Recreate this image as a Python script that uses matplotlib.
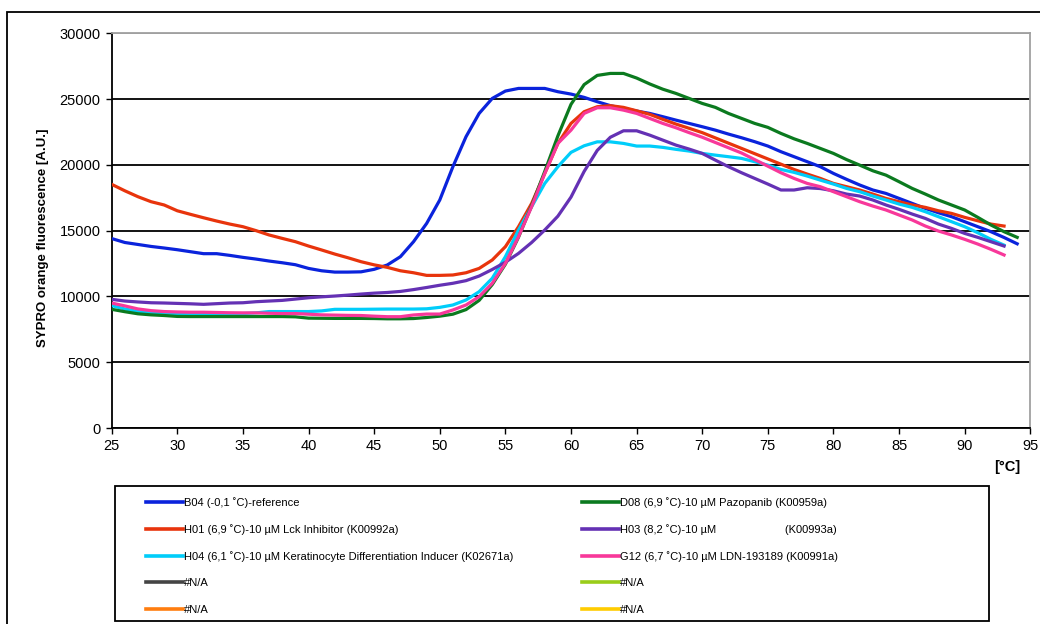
import matplotlib
matplotlib.use("Agg")
import matplotlib.pyplot as plt
import matplotlib.patches as mpatch
from matplotlib.lines import Line2D

plt.rcParams['font.family'] = ['Liberation Sans', 'DejaVu Sans']

BLUE = '#0a23dc'
RED = '#e8340c'
GREEN = '#0b7a1f'
PURPLE = '#6431b4'
CYAN = '#00cdfa'
PINK = '#f8389a'
DARKGRAY = '#444444'
LIMEGREEN = '#9acd1a'
ORANGE = '#ff7d0f'
YELLOW = '#ffcc00'

# temperature axis [°C]
temps_94 = list(range(25, 95))
temps_93 = list(range(25, 94))

b04 = [14400, 14100, 13950, 13800, 13680, 13550, 13400, 13250, 13250, 13120,
       12970, 12840, 12690, 12560, 12410, 12130, 11950, 11850, 11850, 11870,
       12060, 12390, 13020, 14160, 15550, 17330, 19860, 22140, 23910, 25050,
       25610, 25810, 25810, 25810, 25560, 25380, 25130, 24800, 24500, 24290,
       24090, 23910, 23660, 23400, 23150, 22900, 22640, 22340, 22060, 21760,
       21430, 21000, 20620, 20240, 19860, 19350, 18900, 18470, 18090, 17830,
       17450, 17070, 16690, 16360, 16060, 15680, 15300, 14920, 14480, 14000]

d08 = [9020, 8840, 8680, 8600, 8550, 8480, 8470, 8470, 8470, 8470,
       8470, 8470, 8470, 8470, 8450, 8350, 8340, 8330, 8330, 8330,
       8320, 8300, 8300, 8320, 8400, 8500, 8650, 9000, 9700, 10900,
       12450, 14500, 16900, 19500, 22200, 24600, 26100, 26800, 26950, 26950,
       26600, 26150, 25750, 25430, 25050, 24670, 24370, 23910, 23530, 23150,
       22850, 22390, 21980, 21630, 21250, 20870, 20400, 19980, 19550, 19220,
       18720, 18210, 17780, 17330, 16950, 16570, 16010, 15430, 14920, 14490]

h01 = [18520, 18030, 17580, 17200, 16950, 16510, 16240, 15980, 15730, 15500,
       15300, 15000, 14670, 14410, 14160, 13830, 13530, 13220, 12940, 12640,
       12400, 12210, 11950, 11800, 11600, 11600, 11630, 11800, 12130, 12770,
       13780, 15300, 17070, 19350, 21630, 23150, 24040, 24420, 24500, 24370,
       24110, 23840, 23460, 23100, 22780, 22450, 22050, 21650, 21250, 20850,
       20450, 20050, 19650, 19300, 18970, 18590, 18340, 18090, 17780, 17450,
       17200, 16950, 16770, 16510, 16310, 16010, 15750, 15500, 15350]

h03 = [9780, 9650, 9580, 9520, 9500, 9470, 9440, 9400, 9450, 9500,
       9520, 9600, 9650, 9700, 9800, 9900, 9970, 10030, 10100, 10180,
       10250, 10300, 10380, 10520, 10680, 10850, 11000, 11200, 11550, 12050,
       12600, 13270, 14100, 15050, 16100, 17550, 19500, 21100, 22100, 22590,
       22590, 22260, 21880, 21500, 21200, 20870, 20360, 19860, 19400, 18970,
       18540, 18090, 18090, 18260, 18200, 18030, 17780, 17630, 17330, 16950,
       16620, 16260, 15930, 15500, 15170, 14790, 14490, 14160, 13830]

h04 = [9300, 9050, 8850, 8750, 8700, 8700, 8700, 8700, 8700, 8700,
       8700, 8750, 8850, 8850, 8850, 8850, 8900, 9020, 9020, 9020,
       9030, 9040, 9040, 9040, 9060, 9170, 9350, 9730, 10360, 11380,
       13020, 15050, 16820, 18590, 19860, 20950, 21450, 21750, 21750, 21630,
       21430, 21430, 21330, 21180, 21050, 20870, 20740, 20620, 20490, 20240,
       19980, 19650, 19430, 19150, 18840, 18540, 18210, 17960, 17630, 17330,
       17020, 16770, 16440, 16060, 15680, 15300, 14840, 14340, 13900]

g12 = [9500, 9280, 9050, 8920, 8850, 8820, 8800, 8800, 8780, 8760,
       8750, 8750, 8720, 8700, 8700, 8650, 8600, 8580, 8560, 8550,
       8500, 8460, 8460, 8590, 8660, 8660, 8970, 9350, 9980, 11000,
       12510, 14540, 16820, 19350, 21630, 22640, 23910, 24340, 24340, 24160,
       23910, 23530, 23150, 22820, 22450, 22100, 21700, 21300, 20900, 20400,
       19900, 19400, 18970, 18590, 18340, 17960, 17580, 17200, 16870, 16570,
       16190, 15810, 15350, 14970, 14670, 14340, 13980, 13580, 13150]

labels = {
    'b04': 'B04 (-0,1 ˚C)-reference',
    'd08': 'D08 (6,9 ˚C)-10 µM Pazopanib (K00959a)',
    'h01': 'H01 (6,9 ˚C)-10 µM Lck Inhibitor (K00992a)',
    'h03': 'H03 (8,2 ˚C)-10 µM                      (K00993a)',
    'h04': 'H04 (6,1 ˚C)-10 µM Keratinocyte Differentiation Inducer (K02671a)',
    'g12': 'G12 (6,7 ˚C)-10 µM LDN-193189 (K00991a)',
}

W, H = 1040, 624
fig = plt.figure(figsize=(W / 100, H / 100), dpi=100)
ax = fig.add_axes([111.7 / W, 1 - 428 / H, (1030.3 - 111.7) / W, (428 - 33.3) / H])

LW = 2.3
ax.plot(temps_94, b04, color=BLUE, lw=LW, zorder=3)
ax.plot(temps_93, h01, color=RED, lw=LW, zorder=3)
ax.plot(temps_93, h04, color=CYAN, lw=LW, zorder=3)
ax.plot(temps_94, d08, color=GREEN, lw=LW, zorder=3)
ax.plot(temps_93, h03, color=PURPLE, lw=LW, zorder=3)
ax.plot(temps_93, g12, color=PINK, lw=LW, zorder=3)

ax.set_xlim(25, 95)
ax.set_ylim(0, 30000)
ax.set_xticks(range(25, 96, 5))
ax.set_yticks(range(0, 30001, 5000))
ax.tick_params(direction='out', length=4, width=1, labelsize=10.5, pad=4)
ax.yaxis.grid(True, color='black', lw=1.3)
ax.set_axisbelow(True)
ax.get_ygridlines()[-1].set_color('#a0a0a0')
for side in ['left', 'bottom']:
    ax.spines[side].set_color('black')
    ax.spines[side].set_linewidth(1.3)
for side in ['top', 'right']:
    ax.spines[side].set_color('#a0a0a0')
    ax.spines[side].set_linewidth(1.3)

fig.text(43 / W, 1 - 238 / H, 'SYPRO orange fluorescence [A.U.]', rotation=90,
         ha='center', va='center', fontsize=9.5, fontweight='bold')
fig.text(1007 / W, 1 - 467 / H, '[°C]', ha='center', va='center',
         fontsize=10.5, fontweight='bold')

# legend: two columns, each a separate legend so the columns sit where wanted
def handle(c):
    return Line2D([], [], color=c, lw=2.6)

left_col = [(BLUE, labels['b04']), (RED, labels['h01']), (CYAN, labels['h04']),
            (DARKGRAY, '#N/A'), (ORANGE, '#N/A')]
right_col = [(GREEN, labels['d08']), (PURPLE, labels['h03']), (PINK, labels['g12']),
             (LIMEGREEN, '#N/A'), (YELLOW, '#N/A')]

for x0, col in [(146, left_col), (582, right_col)]:
    fig.legend([handle(c) for c, _ in col], [t for _, t in col],
               loc='upper left', bbox_to_anchor=(x0 / W, 1 - 497 / H),
               frameon=False, fontsize=8, borderpad=0, borderaxespad=0,
               handlelength=3.3, handletextpad=0.12, labelspacing=1.46)

fig.add_artist(mpatch.Rectangle((115 / W, 1 - 621 / H), (989 - 115) / W, (621 - 486) / H,
                                transform=fig.transFigure, fill=False,
                                ec='black', lw=1.3))
# outer chart border
fig.add_artist(mpatch.Rectangle((7 / W, -0.05), 1.2, 1.05 - 12 / H,
                                transform=fig.transFigure, fill=False,
                                ec='black', lw=1.3))

fig.savefig('out.png', dpi=100)
